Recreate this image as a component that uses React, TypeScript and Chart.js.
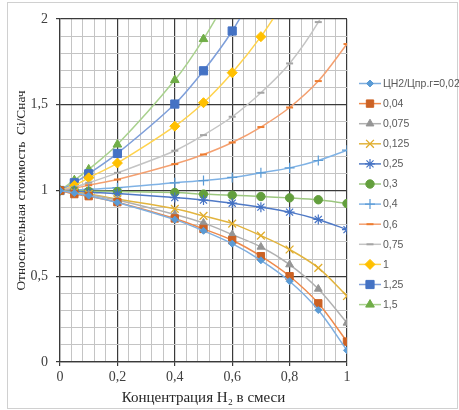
import React, { useEffect, useRef } from 'react';
import { Chart, registerables } from 'chart.js';
import { drawPoint } from 'chart.js/helpers';

Chart.register(...registerables);

// H2 concentration in the mixture (x values of every series)
const xValues = [0, 0.05, 0.1, 0.2, 0.4, 0.5, 0.6, 0.7, 0.8, 0.9, 1];

const seriesLabels = ['ЦН2/Цпр.г=0,02', '0,04', '0,075', '0,125', '0,25', '0,3', '0,4', '0,6', '0,75', '1', '1,25', '1,5'];

const s002 = [1, 0.985, 0.97, 0.93, 0.83, 0.765, 0.69, 0.593, 0.471, 0.303, 0.068];
const s004 = [1, 0.979, 0.967, 0.932, 0.837, 0.776, 0.71, 0.617, 0.5, 0.342, 0.119];
const s0075 = [1, 0.985, 0.975, 0.944, 0.86, 0.811, 0.743, 0.671, 0.568, 0.426, 0.228];
const s0125 = [1, 0.99, 0.98, 0.95, 0.893, 0.852, 0.807, 0.737, 0.656, 0.549, 0.385];
const s025 = [1, 0.995, 0.99, 0.982, 0.959, 0.944, 0.926, 0.903, 0.874, 0.831, 0.772];
const s03 = [1, 0.998, 0.996, 0.994, 0.988, 0.979, 0.973, 0.965, 0.957, 0.946, 0.924];
const s04 = [1, 1.003, 1.007, 1.016, 1.045, 1.058, 1.076, 1.103, 1.132, 1.175, 1.235];
const s06 = [1, 1.012, 1.031, 1.064, 1.154, 1.21, 1.28, 1.37, 1.484, 1.638, 1.854];
const s075 = [1, 1.02, 1.045, 1.103, 1.232, 1.323, 1.43, 1.57, 1.741, 1.982, 2.3];
const s1 = [1, 1.029, 1.074, 1.16, 1.375, 1.512, 1.687, 1.897, 2.15];
const s125 = [1, 1.045, 1.097, 1.216, 1.504, 1.698, 1.93, 2.22];
const s15 = [1, 1.06, 1.123, 1.268, 1.644, 1.883, 2.17];

const seriesValues = [s002, s004, s0075, s0125, s025, s03, s04, s06, s075, s1, s125, s15];

const xTickStep = 0.04;
const xMajorStep = 0.2;
const yTickStep = 0.1;
const yMajorStep = 0.5;

const styles = [
  { line: '#7FAEDF', point: '#5B9BD5', pointStyle: 'rectRot', radius: 3.5, pbw: 1 },
  { line: '#EE8A4C', point: '#CC6224', pointStyle: 'rect', radius: 5.2, pbw: 1 },
  { line: '#B0B0B0', point: '#959595', pointStyle: 'triangle', radius: 4.5, pbw: 1 },
  { line: '#E2B43E', point: '#E0AC2B', pointStyle: 'crossRot', radius: 5.5, pbw: 1.3 },
  { line: '#4F79C6', point: '#4472C4', pointStyle: 'star', radius: 5, pbw: 1.2 },
  { line: '#9CC77F', point: '#639F3D', pointStyle: 'circle', radius: 4.2, pbw: 1 },
  { line: '#7FB2E5', point: '#5B9BD5', pointStyle: 'cross', radius: 5, pbw: 1.2 },
  { line: '#F4A070', point: '#ED7D31', pointStyle: 'line', radius: 3.5, pbw: 2 },
  { line: '#C4C4C4', point: '#A5A5A5', pointStyle: 'line', radius: 3.5, pbw: 2 },
  { line: '#FFD34D', point: '#FFC000', pointStyle: 'rectRot', radius: 5, pbw: 1 },
  { line: '#7E9FDA', point: '#4472C4', pointStyle: 'rect', radius: 5.8, pbw: 1 },
  { line: '#A9D18E', point: '#70AD47', pointStyle: 'triangle', radius: 5, pbw: 1 },
];

const isMajor = (v: number, step: number) => Math.abs(v / step - Math.round(v / step)) < 1e-6;
const fmt = (v: number) => String(Math.round(v * 10) / 10).replace('.', ',');

const serif = '"Liberation Serif", "Times New Roman", serif';

const frame = {
  id: 'frame',
  beforeDraw(chart: any) {
    const { ctx, width, height } = chart;
    ctx.save();
    ctx.fillStyle = '#ffffff';
    ctx.fillRect(0, 0, width, height);
    ctx.strokeStyle = '#d0d0d0';
    ctx.lineWidth = 1;
    ctx.strokeRect(7.5, 2.5, 450, 406);
    ctx.restore();
  },
};

const legendPlugin = {
  id: 'sideLegend',
  afterDraw(chart: any) {
    const { ctx } = chart;
    ctx.save();
    chart.data.datasets.forEach((ds: any, i: number) => {
      const y = 83.5 + i * 20.1;
      ctx.strokeStyle = ds.borderColor;
      ctx.lineWidth = 1.5;
      ctx.beginPath();
      ctx.moveTo(359, y);
      ctx.lineTo(381, y);
      ctx.stroke();
      ctx.fillStyle = ds.pointBackgroundColor;
      ctx.strokeStyle = ds.pointBorderColor;
      ctx.lineWidth = ds.pointBorderWidth;
      drawPoint(ctx, { pointStyle: ds.pointStyle, radius: ds.pointRadius, rotation: 0, borderWidth: ds.pointBorderWidth }, 370, y);
      ctx.fillStyle = '#595959';
      ctx.font = '10.5px "Liberation Sans", Arial, sans-serif';
      ctx.textBaseline = 'middle';
      ctx.textAlign = 'left';
      ctx.fillText(ds.label, 383, y + 0.5);
    });
    ctx.restore();
  },
};

export default function App() {
  const ref = useRef<HTMLCanvasElement>(null);

  useEffect(() => {
    if (!ref.current) return;
    const datasets = seriesValues.map((vals, i) => {
      const st = styles[i];
      return {
        label: seriesLabels[i],
        data: vals.map((v, j) => ({ x: xValues[j], y: v })),
        showLine: true,
        borderColor: st.line,
        borderWidth: 1.5,
        tension: 0.33,
        pointStyle: st.pointStyle,
        pointRadius: st.radius,
        pointHoverRadius: st.radius,
        pointBackgroundColor: st.point,
        pointBorderColor: st.point,
        pointBorderWidth: st.pbw,
      };
    });

    const chart = new Chart(ref.current, {
      type: 'scatter',
      data: { datasets },
      plugins: [frame, legendPlugin],
      options: {
        animation: false,
        responsive: false,
        maintainAspectRatio: false,
        layout: { padding: { left: 0, top: 19, right: 112, bottom: 0 } },
        elements: { line: { capBezierPoints: false } },
        plugins: { legend: { display: false }, tooltip: { enabled: false } },
        scales: {
          x: {
            type: 'linear',
            min: 0,
            max: 1,
            afterFit(scale: any) {
              scale.height = 48;
              scale.paddingLeft = 0;
              scale.paddingRight = 0;
            },
            ticks: {
              stepSize: xTickStep,
              autoSkip: false,
              maxRotation: 0,
              padding: 3,
              color: '#404040',
              font: { family: serif, size: 14 },
              callback: (v: any) => (isMajor(Number(v), xMajorStep) ? fmt(Number(v)) : ''),
            },
            grid: {
              tickLength: 4,
              color: (c: any) => (isMajor(c.tick.value, xMajorStep) ? '#3a3a3a' : '#c4c4c4'),
              lineWidth: (c: any) => (isMajor(c.tick.value, xMajorStep) ? 1.2 : 1),
              tickColor: (c: any) => (isMajor(c.tick.value, xMajorStep) ? '#3a3a3a' : 'rgba(0,0,0,0)'),
            },
            border: { display: true, color: '#3a3a3a', width: 1.2 },
            title: {
              display: true,
              text: 'Концентрация H₂ в смеси',
              color: '#262626',
              font: { family: serif, size: 15 },
              padding: { top: 0, bottom: 3 },
            },
          },
          y: {
            type: 'linear',
            min: 0,
            max: 2,
            afterFit(scale: any) {
              scale.width = 60;
              scale.paddingTop = 0;
              scale.paddingBottom = 0;
            },
            ticks: {
              stepSize: yTickStep,
              autoSkip: false,
              padding: 8,
              color: '#404040',
              font: { family: serif, size: 14 },
              callback: (v: any) => (isMajor(Number(v), yMajorStep) ? fmt(Number(v)) : ''),
            },
            grid: {
              tickLength: 4,
              color: (c: any) => (isMajor(c.tick.value, yMajorStep) ? '#3a3a3a' : '#c4c4c4'),
              lineWidth: (c: any) => (isMajor(c.tick.value, yMajorStep) ? 1.2 : 1),
              tickColor: (c: any) => (isMajor(c.tick.value, yMajorStep) ? '#3a3a3a' : 'rgba(0,0,0,0)'),
            },
            border: { display: true, color: '#3a3a3a', width: 1.2 },
            title: {
              display: true,
              text: 'Относительная стоимость  Сi/Снач',
              color: '#262626',
              font: { family: serif, size: 13.4 },
              padding: { top: 13, bottom: 0 },
            },
          },
        },
      } as any,
    });
    return () => chart.destroy();
  }, []);

  return (
    <div style={{ position: 'absolute', left: 0, top: 0, width: 459, height: 410 }}>
      <canvas ref={ref} width={459} height={410} style={{ display: 'block', width: 459, height: 410 }} />
    </div>
  );
}
